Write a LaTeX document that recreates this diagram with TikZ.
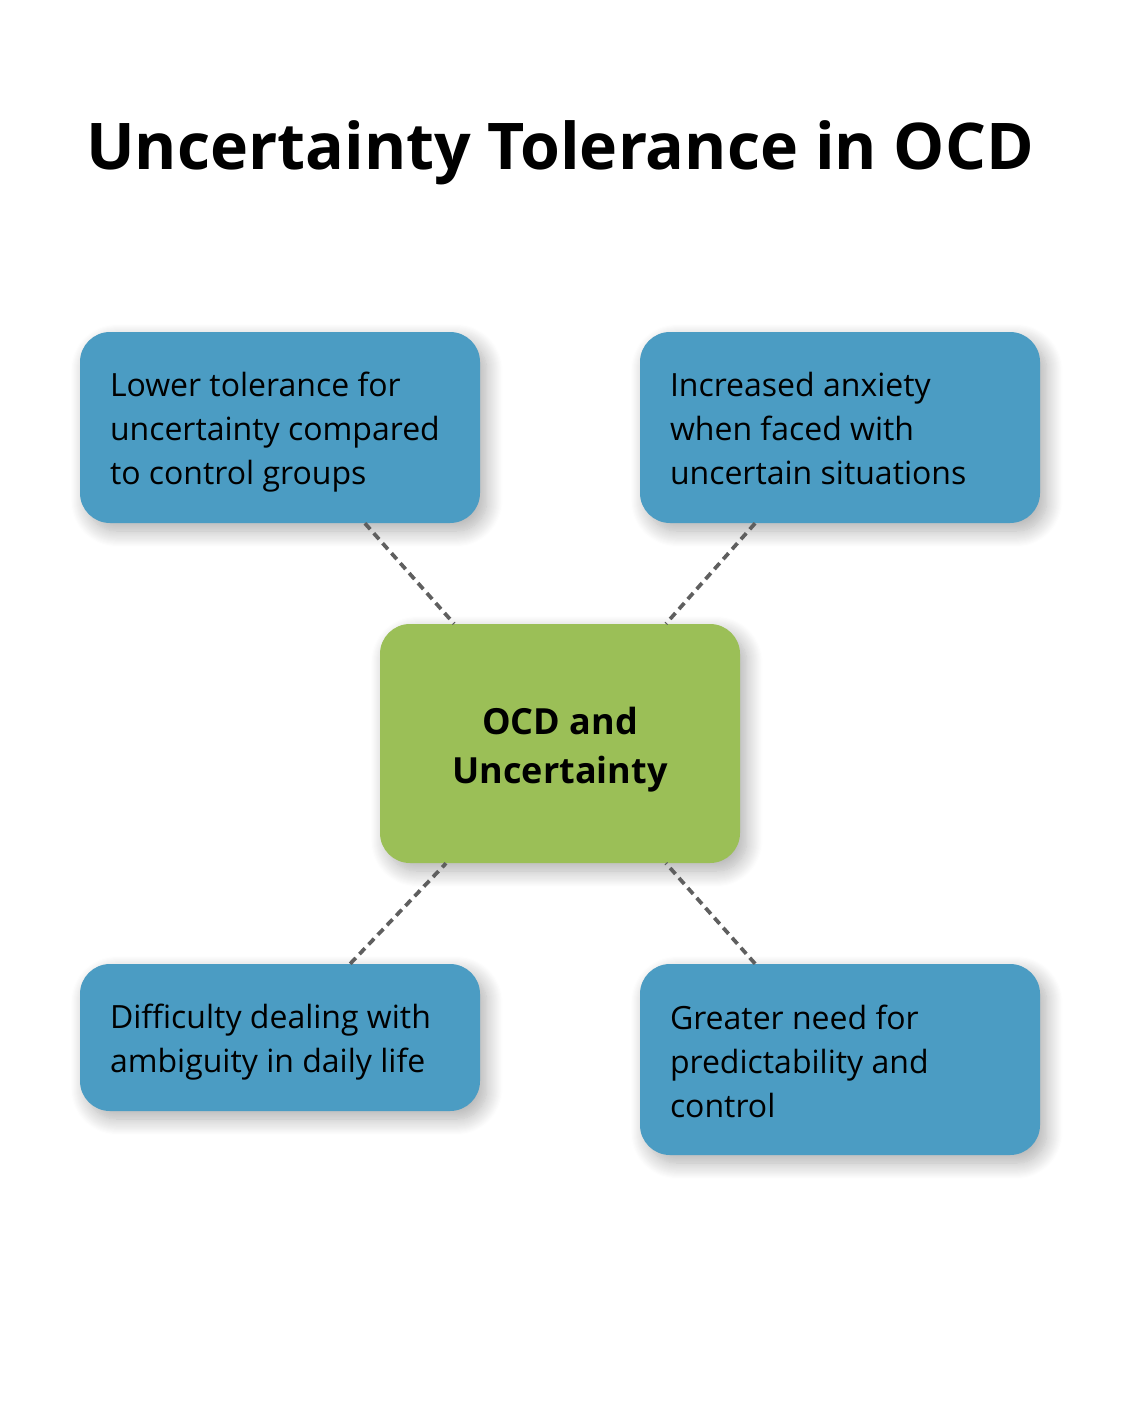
\documentclass[tikz,border=0pt]{standalone}
\usepackage{fontspec}
\setmainfont{Open Sans}
\usetikzlibrary{shadows.blur}
\definecolor{boxblue}{HTML}{4B9CC3}
\definecolor{boxgreen}{HTML}{9BBF57}
\definecolor{conngray}{HTML}{5F5F5F}
\newcommand\mytightspace{\spaceskip=0.26em\relax}
\begin{document}
\begin{tikzpicture}[x=0.75pt,y=-0.75pt,
  shadowed/.style={blur shadow={shadow xshift=5pt,shadow yshift=-6pt,shadow blur radius=12pt,shadow blur steps=16,shadow opacity=32}},
  leaf/.style={shadowed,fill=boxblue,rounded corners=22.5pt,inner sep=0pt,
    minimum width=300pt},
  leaftext/.style={inner sep=0pt,text width=255pt,align=left,yshift=-3.5pt,
    font=\fontsize{24}{33}\selectfont,execute at begin node=\mytightspace},
  hub/.style={shadowed,fill=boxgreen,rounded corners=22.5pt,inner sep=0pt,
    minimum width=270pt,minimum height=179.25pt},
  hubtext/.style={inner sep=0pt,text width=240pt,align=center,yshift=-4.5pt,
    font=\bfseries\fontsize{27}{36.75}\selectfont,execute at begin node=\mytightspace},
  conn/.style={draw=conngray,line width=2.8pt,dash pattern=on 6pt off 4pt}]
\useasboundingbox (0,0) rectangle (1120,1416);
\node[font=\bfseries\fontsize{48.3}{56}\selectfont,anchor=base] (title) at (560,170) {Uncertainty Tolerance in OCD};
\node[leaf,minimum height=143.25pt,label={[leaftext]center:{Lower tolerance for\\uncertainty compared\\to control groups}}] (tl) at (280,427.5) {};
\node[leaf,minimum height=143.25pt,label={[leaftext,yshift=3pt]center:{Increased anxiety\\when faced with\\uncertain situations}}] (tr) at (840,427.5) {};
\node[hub,label={[hubtext]center:{OCD and\\Uncertainty}}] (c) at (560,743.5) {};
\node[leaf,minimum height=110.25pt,label={[leaftext]center:{Difficulty dealing with\\ambiguity in daily life}}] (bl) at (280,1037.5) {};
\node[leaf,minimum height=143.25pt,label={[leaftext,yshift=2.25pt]center:{Greater need for\\predictability and\\control}}] (br) at (840,1059.5) {};
\draw[conn] (tl) -- (c);
\draw[conn] (tr) -- (c);
\draw[conn] (bl) -- (c);
\draw[conn] (br) -- (c);
\end{tikzpicture}
\end{document}
